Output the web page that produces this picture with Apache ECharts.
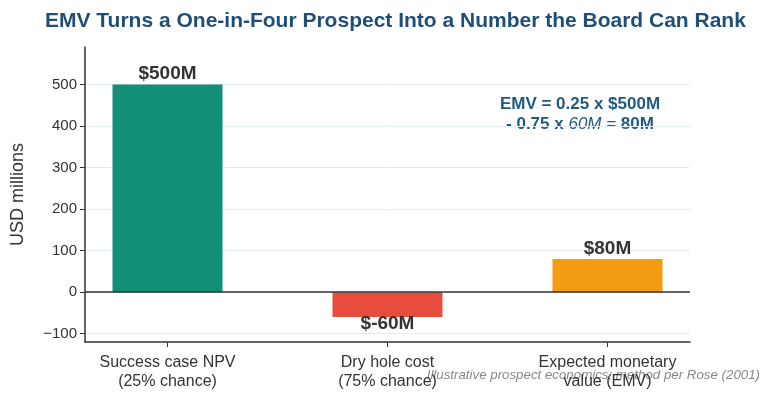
<!DOCTYPE html>
<html>
<head>
<meta charset="utf-8">
<script src="https://cdn.jsdelivr.net/npm/echarts@6/dist/echarts.min.js"></script>
<style>
  html, body { margin: 0; padding: 0; background: #fff; }
  #chart { width: 771px; height: 400px; }
</style>
</head>
<body>
<div id="chart"></div>
<script>
// data
var categories = ['Success case NPV\n(25% chance)', 'Dry hole cost\n(75% chance)', 'Expected monetary\nvalue (EMV)'];
var values = [500, -60, 80];
var barLabels = ['$500M', '$-60M', '$80M'];
var barColors = ['#148f77', '#e74c3c', '#f39c12'];
var yTicks = [-100, 0, 100, 200, 300, 400, 500];

var myChart = echarts.init(document.getElementById('chart'));

var barData = values.map(function (v, i) {
    return {
        value: [i, v],
        itemStyle: { color: barColors[i] },
        label: {
            position: v < 0 ? 'bottom' : 'top',
            distance: v < 0 ? -3 : 1
        }
    };
});

var option = {
    animation: false,
    title: {
        text: 'EMV Turns a One-in-Four Prospect Into a Number the Board Can Rank',
        left: 40,
        top: 6,
        textStyle: { fontFamily: 'Liberation Sans', fontSize: 21, fontWeight: 'bold', color: '#1f4e79' }
    },
    grid: { left: 85, right: 81, top: 47, bottom: 58 },
    xAxis: {
        type: 'value',
        min: -0.375,
        max: 2.375,
        splitLine: { show: false },
        axisLine: { show: true, onZero: false, lineStyle: { color: '#333', width: 1.5 } },
        axisTick: { show: true, customValues: [0, 1, 2], length: 5, lineStyle: { color: '#333' } },
        axisLabel: {
            customValues: [0, 1, 2],
            formatter: function (v) { return categories[Math.round(v)]; },
            fontFamily: 'Liberation Sans', fontSize: 16, color: '#333', lineHeight: 19, margin: 11
        }
    },
    yAxis: {
        type: 'value',
        min: -120,
        max: 590,
        name: 'USD millions',
        nameLocation: 'middle',
        nameGap: 58,
        nameTextStyle: { fontFamily: 'Liberation Sans', fontSize: 18, color: '#333' },
        axisLine: { show: true, onZero: false, lineStyle: { color: '#333', width: 1.5 } },
        axisTick: { show: true, customValues: yTicks, length: 5, lineStyle: { color: '#333' } },
        axisLabel: { customValues: yTicks, fontFamily: 'Liberation Sans', fontSize: 15, color: '#333', margin: 8,
            formatter: function (v) { return v < 0 ? '\u2212' + (-v) : String(v); } },
        splitLine: { show: true, lineStyle: { color: '#e3ecf6', width: 1 } }
    },
    series: [{
        type: 'bar',
        barWidth: 110,
        data: barData,
        label: {
            show: true,
            formatter: function (p) { return barLabels[p.dataIndex]; },
            fontFamily: 'Liberation Sans', fontSize: 19, fontWeight: 'bold', color: '#333'
        },
        markLine: {
            silent: true,
            symbol: 'none',
            label: { show: false },
            lineStyle: { color: '#333', width: 1.5, type: 'solid' },
            data: [{ yAxis: 0 }]
        },
        z: 2
    }],
    graphic: [
        {
            type: 'text',
            x: 580,
            y: 94,
            style: {
                text: '{b|EMV = 0.25 x $500M}\n{b|- 0.75 x }{i|60M = }{b|80M}',
                textAlign: 'center',
                textVerticalAlign: 'top',
                rich: {
                    b: { fontFamily: 'Liberation Sans', fontSize: 17, fontWeight: 'bold', fill: '#1f5a80', lineHeight: 20 },
                    i: { fontFamily: 'Liberation Sans', fontSize: 17, fontStyle: 'italic', fill: '#1f5a80', lineHeight: 20 }
                }
            }
        },
        {
            type: 'text',
            right: 11,
            top: 369,
            style: {
                text: 'Illustrative prospect economics; method per Rose (2001)',
                fontFamily: 'Liberation Sans', fontSize: 13.3, fontStyle: 'italic', fill: '#888'
            }
        }
    ]
};

myChart.setOption(option);
</script>
</body>
</html>
